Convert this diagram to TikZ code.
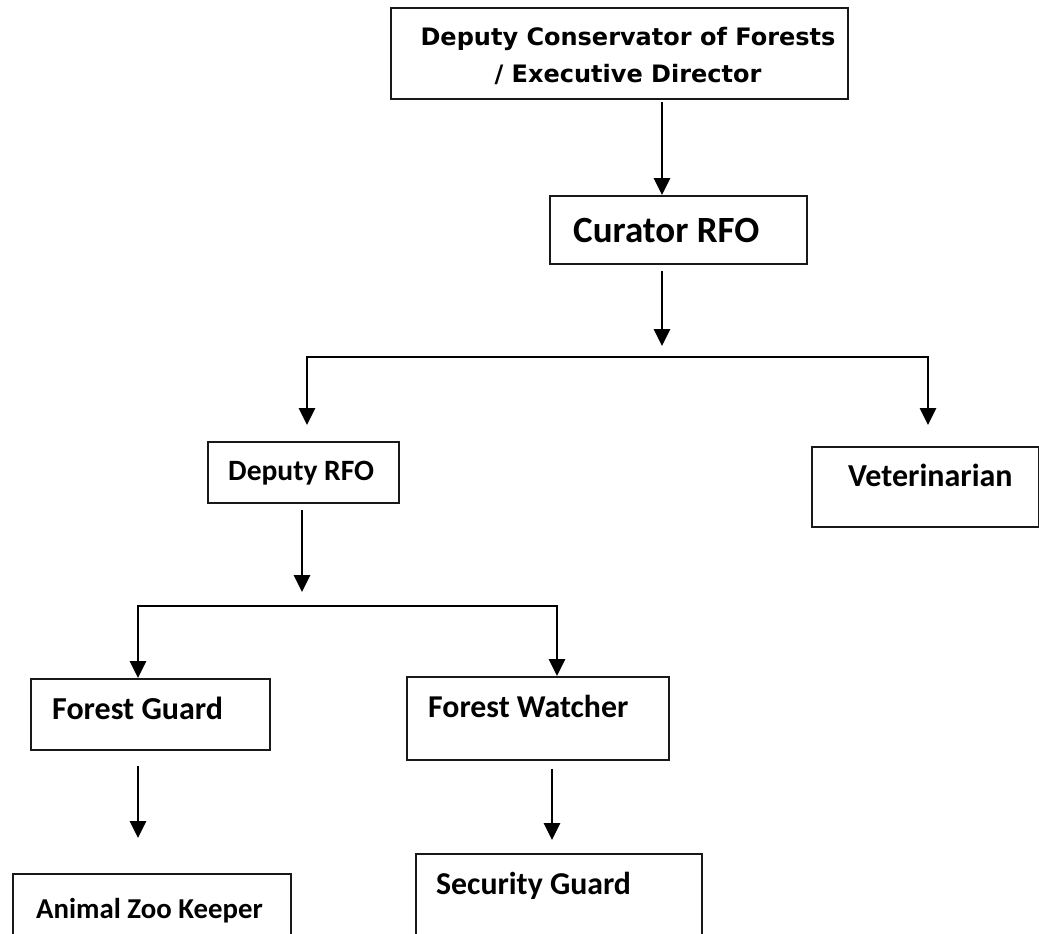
\documentclass[tikz,border=0pt]{standalone}
\usepackage{fontspec}
\usetikzlibrary{arrows.meta}
\newfontfamily\verdana{DejaVu Sans}
\newfontfamily\calibri{Carlito}
\newcommand{\Calibri}[1]{\calibri\bfseries\fontsize{#1pt}{#1pt}\selectfont}
\newcommand{\OrgBox}[9]{
	\node[orgbox, minimum width=\fpeval{#4-#2}pt, minimum height=\fpeval{#5-#3}pt, anchor=north west] (#1) at (#2,#3) {};
	\node[anchor=base west, inner sep=0pt, font=\Calibri{#8}] (#1-text) at (#6,#7) {#9};
}

\begin{document}
\begin{tikzpicture}[x=1pt, y=-1pt,
	orgbox/.style={draw=black!90, line width=1.8pt, inner sep=0pt},
	conn/.style={line width=2.7pt, -{Triangle[length=17pt,width=16pt]}}]
	\useasboundingbox (0,0) rectangle (1039,934);
	\clip (0,0) rectangle (1039,934);

	\node[orgbox, minimum width=457pt, minimum height=91pt, anchor=north west] (dcf) at (390,7) {};
	\node[font=\verdana\bfseries\fontsize{24pt}{37pt}\selectfont, align=center, inner sep=0pt] (dcf-text) at (628,55.5) {Deputy Conservator of Forests\\ / Executive Director};

	\OrgBox{cur}{549}{195}{806}{263}{573}{242}{37}{Curator RFO}
	\OrgBox{dep}{207}{441}{398}{502}{228}{480}{29.5}{Deputy RFO}
	\OrgBox{vet}{811}{446}{1038}{526}{848}{486}{32}{Veterinarian}
	\OrgBox{fg}{30}{678}{269}{749}{52}{719}{32}{Forest Guard}
	\OrgBox{fw}{406}{676}{668}{759}{428}{717}{31.8}{Forest Watcher}
	\OrgBox{azk}{12}{873}{290}{950}{36}{918}{28.8}{Animal Zoo Keeper}
	\OrgBox{sg}{415}{853}{701}{950}{436}{894}{31.8}{Security Guard}

	%\node at (662,357) {x};
	\coordinate (bus1-l) at (307,357);
	\coordinate (bus1-m) at (662,357);
	\coordinate (bus1-r) at (928,357);
	\coordinate (bus2-l) at (138,606);
	\coordinate (bus2-m) at (302,606);
	\coordinate (bus2-r) at (557,606);
	\coordinate (fw-drop) at (552,0);

	\draw[conn] ([yshift=-2pt]dcf.south -| bus1-m) -- (cur.north -| bus1-m);
	\draw[conn] ([yshift=-6pt]cur.south -| bus1-m) -- ([yshift=11pt]bus1-m);
	\draw[conn] (bus1-m) -| ([yshift=16pt]dep.north -| bus1-l);
	\draw[conn] (bus1-m) -| ([yshift=21pt]vet.north -| bus1-r);

	\draw[conn] ([yshift=-6pt]dep.south -| bus2-m) -- ([yshift=14pt]bus2-m);
	\draw[conn] (bus2-m) -| (fg.north -| bus2-l);
	\draw[conn] (bus2-m) -| (fw.north -| bus2-r);

	\draw[conn] ([yshift=-15pt]fg.south -| bus2-l) -- ([yshift=35pt]azk.north -| bus2-l);
	\draw[conn] ([yshift=-8pt]fw.south -| fw-drop) -- ([yshift=13pt]sg.north -| fw-drop);
\end{tikzpicture}
\end{document}
